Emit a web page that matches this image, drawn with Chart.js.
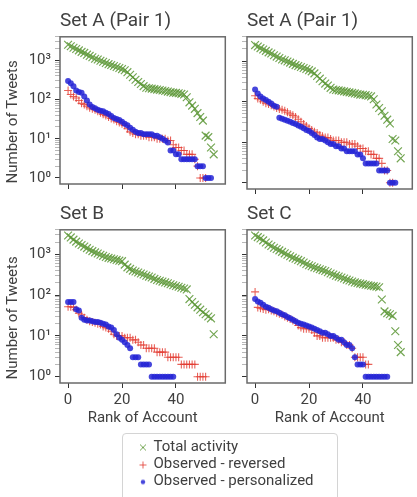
<!DOCTYPE html>
<html>
<head>
<meta charset="utf-8">
<script src="https://cdn.jsdelivr.net/npm/chart.js@4.4.1/dist/chart.umd.min.js"></script>
<style>
  html, body { margin: 0; padding: 0; background: #fff; overflow: hidden; }
  body { width: 417px; height: 497px; position: relative; }
  canvas { position: absolute; }
  #legendBox { position: absolute; left: 122px; top: 433px; width: 216px; height: 70px;
               border: 1px solid #d4d4d4; border-radius: 4px; box-sizing: border-box; }
</style>
</head>
<body>
<canvas id="cA1" width="232" height="197" style="left:0;top:0"></canvas>
<canvas id="cA2" width="184" height="197" style="left:235px;top:0"></canvas>
<canvas id="cB" width="232" height="235" style="left:0;top:193px"></canvas>
<canvas id="cC" width="184" height="235" style="left:235px;top:193px"></canvas>
<div id="legendBox"><canvas id="cLegend" width="214" height="68" style="left:0;top:0"></canvas></div>

<script>
// Axis ticks
const xTicks = [0, 20, 40];
const yMajor = [1, 10, 100, 1000];
const yTickLabels = ['10⁰', '10¹', '10²', '10³'];

const panelTitles = ['Set A (Pair 1)', 'Set A (Pair 1)', 'Set B', 'Set C'];
const seriesNames = ['Total activity', 'Observed - reversed', 'Observed - personalized'];

// Tweets per account, sorted by rank (index 0 = rank 0)
const totalA = [2500, 2300, 2100, 1950, 1800, 1650, 1550, 1400, 1300, 1200,
  1100, 1050, 980, 920, 860, 800, 760, 720, 680, 640,
  600, 560, 500, 430, 370, 320, 280, 250, 220, 200,
  195, 190, 185, 180, 175, 170, 165, 160, 155, 150,
  148, 145, 140, 135, 115, 85, 70, 58, 45, 36,
  29, 12, 11, 6, 4];
const reversedA1 = [170, 135, 120, 110, 95, 80, 75, 68, 62, 58,
  55, 50, 46, 42, 39, 36, 33, 31, 28, 26,
  24, 22, 18, 15, 14, 13, 13, 12, 12, 12,
  11, 11, 11, 10, 10, 10, 10, 9, 9, 7,
  6, 6, 5, 5, 4, 4, 4, 3, 2, 1,
  1, 1];
const personalA1 = [300, 260, 220, 170, 155, 150, 120, 95, 75, 65,
  60, 55, 52, 50, 46, 43, 38, 34, 32, 30,
  27, 24, 22, 19, 17, 15, 14, 14, 13, 13,
  13, 13, 12, 12, 11, 10, 9, 8, 5, 5,
  4, 4, 3, 3, 3, 3, 3, 3, 2, 2,
  2, 1, 1, 1];
const reversedA2 = [140, 120, 112, 100, 92, 88, 82, 76, 70, 66,
  63, 60, 55, 50, 46, 42, 37, 32, 28, 25,
  22, 20, 18, 17, 15, 14, 13, 13, 12, 11,
  11, 11, 10, 10, 10, 9, 9, 9, 8, 7,
  7, 6, 6, 5, 5, 4, 4, 3, 2, 2,
  1, 1];
const personalA2 = [200, 160, 135, 120, 110, 100, 90, 80, 75, 40,
  38, 36, 34, 32, 30, 28, 26, 24, 22, 20,
  19, 17, 15, 13, 12, 12, 11, 10, 9, 9,
  8, 8, 7, 7, 6, 6, 6, 6, 5, 5,
  4, 3, 3, 3, 3, 3, 2, 2, 2, 2,
  1, 1, 1];
const totalB = [2900, 2600, 2300, 2050, 1850, 1700, 1550, 1420, 1300, 1200,
  1120, 1050, 980, 920, 860, 820, 790, 760, 730, 700,
  680, 560, 480, 440, 400, 380, 360, 340, 320, 300,
  285, 270, 250, 235, 225, 215, 205, 195, 185, 175,
  168, 160, 152, 145, 138, 80, 68, 58, 50, 44,
  38, 34, 30, 27, 11];
const reversedB = [52, 52, 50, 44, 36, 33, 28, 25, 23, 22,
  21, 20, 19, 17, 16, 15, 13, 11, 10, 10,
  10, 9, 9, 9, 8, 8, 7, 6, 6, 5,
  5, 5, 5, 4, 4, 4, 4, 3, 3, 3,
  3, 3, 2, 2, 2, 2, 2, 2, 1, 1,
  1, 1];
const personalB = [68, 68, 68, 45, 42, 28, 25, 24, 24, 23,
  22, 22, 21, 20, 19, 17, 16, 14, 11, 9,
  8, 7, 6, 5, 3, 3, 3, 2, 2, 2,
  2, 1, 1, 1, 1, 1, 1, 1, 1, 1];
const totalC = [2900, 2650, 2450, 2200, 1950, 1750, 1600, 1450, 1350, 1250,
  1150, 1060, 980, 900, 830, 780, 730, 680, 630, 580,
  540, 510, 480, 455, 430, 410, 390, 365, 340, 320,
  300, 285, 270, 255, 240, 228, 216, 205, 198, 192,
  186, 180, 175, 170, 166, 162, 156, 78, 40, 36,
  34, 31, 13, 6, 4];
const reversedC = [120, 50, 48, 46, 44, 45, 42, 40, 37, 35,
  33, 30, 28, 26, 24, 22, 18, 16, 15, 15,
  15, 14, 12, 10, 10, 9, 9, 9, 9, 9,
  8, 8, 7, 7, 6, 6, 5, 3, 3, 3,
  3, 2, 2];
const personalC = [80, 70, 65, 58, 52, 49, 45, 42, 40, 37,
  34, 32, 29, 27, 25, 23, 21, 20, 19, 18,
  17, 16, 15, 14, 13, 12, 12, 11, 10, 10,
  9, 8, 8, 7, 6, 6, 5, 3, 2, 2,
  2, 1, 1, 1, 1, 1, 1, 1, 1, 1];

// Colours
const green = 'rgba(92, 150, 54, 0.85)';
const red = 'rgba(226, 58, 48, 0.8)';
const blue = 'rgba(38, 38, 214, 0.85)';
const textColor = '#404040';
const font = 'Roboto';

// log ticks 1..9 x 10^k (minor ones get no label)
const yAllTicks = [];
yMajor.forEach(m => {
    for (let k = 1; k <= 9; k++) {
        if (m * k <= 4000) yAllTicks.push(m * k);
    }
});

function toPoints(vals) {
    return vals.map((v, i) => ({ x: i, y: v }));
}

// box around the plot area
const framePlugin = {
    id: 'frame',
    afterDraw(chart) {
        const a = chart.chartArea;
        const ctx = chart.ctx;
        ctx.save();
        ctx.strokeStyle = '#6a6a6a';
        ctx.lineWidth = 1.5;
        ctx.strokeRect(a.left, a.top, a.right - a.left, a.bottom - a.top);
        ctx.restore();
    }
};

function makePanel(id, title, total, reversed, personal, showY, showX) {
    return new Chart(document.getElementById(id), {
        type: 'scatter',
        data: {
            datasets: [
                { label: seriesNames[0], data: toPoints(total), pointStyle: 'crossRot', pointRadius: 5.5,
                  borderColor: green, backgroundColor: green, borderWidth: 1.2, order: 2 },
                { label: seriesNames[1], data: toPoints(reversed), pointStyle: 'cross', pointRadius: 4,
                  borderColor: red, backgroundColor: red, borderWidth: 1.1, order: 1 },
                { label: seriesNames[2], data: toPoints(personal), pointStyle: 'circle', pointRadius: 3,
                  borderColor: blue, backgroundColor: blue, borderWidth: 0, order: 0 }
            ]
        },
        options: {
            responsive: false,
            animation: false,
            devicePixelRatio: 1,
            layout: { padding: 0 },
            plugins: {
                legend: { display: false },
                tooltip: { enabled: false },
                title: {
                    display: true, text: title, align: 'start', fullSize: false, color: textColor,
                    font: { family: font, size: 19, weight: 'normal' }, padding: { top: 10, bottom: 4 }
                }
            },
            scales: {
                x: {
                    type: 'linear', min: -3, max: 58.3,
                    afterBuildTicks: s => { s.ticks = xTicks.map(v => ({ value: v })); },
                    afterFit: s => { s.height = showX ? 45 : 8; },
                    grid: { drawOnChartArea: false, tickLength: 5, tickColor: '#333' },
                    border: { display: false },
                    ticks: { display: showX, autoSkip: false, maxRotation: 0, padding: 3, color: textColor,
                             font: { family: font, size: 15 } },
                    title: { display: showX, text: 'Rank of Account', color: textColor,
                             font: { family: font, size: 15 }, padding: { top: 0, bottom: 1 } }
                },
                y: {
                    type: 'logarithmic', min: 0.7, max: 4000,
                    afterBuildTicks: s => { s.ticks = yAllTicks.map(v => ({ value: v })); },
                    afterFit: s => { s.width = showY ? 60 : 12; },
                    grid: {
                        drawOnChartArea: false, tickLength: 5,
                        tickColor: c => yMajor.includes(c.tick.value) ? '#333' : '#999',
                        tickWidth: c => yMajor.includes(c.tick.value) ? 1 : 0.7
                    },
                    border: { display: false },
                    ticks: {
                        display: showY, autoSkip: false, padding: 4, color: textColor,
                        font: { family: font, size: 15 },
                        callback: v => {
                            const i = yMajor.indexOf(v);
                            return i >= 0 ? yTickLabels[i] : '';
                        }
                    },
                    // trailing spaces nudge the label down like the original
                    title: { display: showY, text: 'Number of Tweets\u2003\u2002', color: textColor,
                             font: { family: font, size: 15 }, padding: { top: 4, bottom: 0 } }
                }
            }
        },
        plugins: [framePlugin]
    });
}

makePanel('cA1', panelTitles[0], totalA, reversedA1, personalA1, true, false);
makePanel('cA2', panelTitles[1], totalA, reversedA2, personalA2, false, false);
makePanel('cB', panelTitles[2], totalB, reversedB, personalB, true, true);
makePanel('cC', panelTitles[3], totalC, reversedC, personalC, false, true);

// small legend glyphs (the built-in ones are all the same size)
function legendGlyph(kind, color) {
    const c = document.createElement('canvas');
    c.width = 10;
    c.height = 10;
    const g = c.getContext('2d');
    g.strokeStyle = color;
    g.fillStyle = color;
    g.lineWidth = 1;
    g.beginPath();
    if (kind === 'x') {
        g.moveTo(2, 2); g.lineTo(8, 8);
        g.moveTo(8, 2); g.lineTo(2, 8);
        g.stroke();
    } else if (kind === '+') {
        g.moveTo(1.5, 5.5); g.lineTo(8.5, 5.5);
        g.moveTo(5, 2); g.lineTo(5, 9);
        g.stroke();
    } else {
        g.arc(5, 5.5, 2.2, 0, Math.PI * 2);
        g.fill();
    }
    return c;
}

// Legend
new Chart(document.getElementById('cLegend'), {
    type: 'scatter',
    data: {
        datasets: [
            { label: seriesNames[0], data: [], pointStyle: legendGlyph('x', green), borderColor: green, backgroundColor: green },
            { label: seriesNames[1], data: [], pointStyle: legendGlyph('+', red), borderColor: red, backgroundColor: red },
            { label: seriesNames[2], data: [], pointStyle: legendGlyph('o', blue), borderColor: blue, backgroundColor: blue }
        ]
    },
    options: {
        responsive: false,
        animation: false,
        devicePixelRatio: 1,
        layout: { padding: { left: 15, top: 4 } },
        scales: { x: { display: false }, y: { display: false } },
        plugins: {
            tooltip: { enabled: false },
            legend: {
                position: 'top', align: 'start', maxHeight: 68,
                labels: {
                    usePointStyle: true, boxHeight: 5, boxWidth: 6, padding: 2, color: textColor,
                    font: { family: font, size: 15 }
                }
            }
        }
    }
});
</script>
</body>
</html>
